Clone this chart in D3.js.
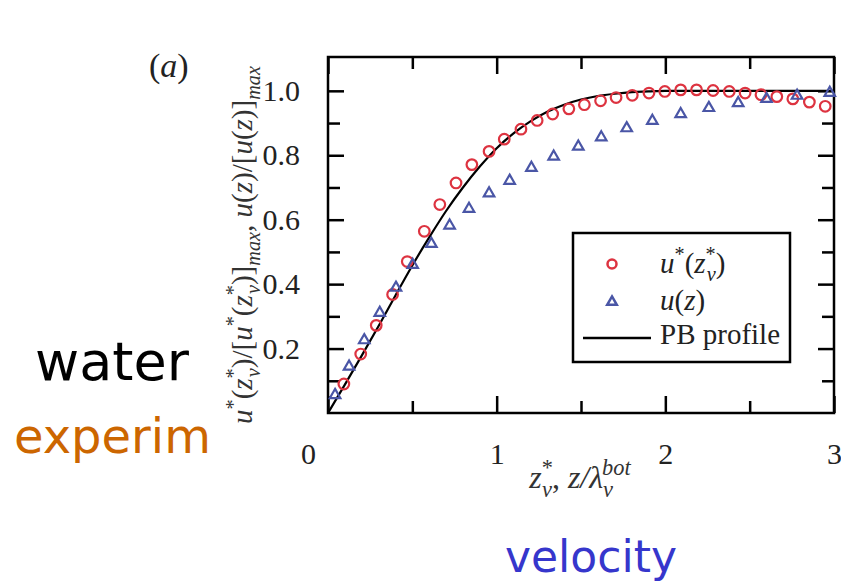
<!DOCTYPE html>
<html>
<head>
<meta charset="utf-8">
<script src="https://cdn.jsdelivr.net/npm/d3@7"></script>
<style>
  body { margin: 0; background: #fff; }
  svg { display: block; }
</style>
</head>
<body>
<svg id="chart" width="841" height="584"></svg>
<script>
// Data
const starX = [0.094, 0.194, 0.286, 0.383, 0.470, 0.571, 0.663, 0.759, 0.853, 0.955, 1.045, 1.144, 1.240, 1.332, 1.428, 1.520, 1.616, 1.708, 1.804, 1.903, 1.997, 2.091, 2.185, 2.283, 2.379, 2.473, 2.567, 2.661, 2.756, 2.854, 2.948];
const starY = [0.090, 0.183, 0.272, 0.368, 0.470, 0.564, 0.647, 0.714, 0.771, 0.812, 0.850, 0.881, 0.908, 0.928, 0.944, 0.957, 0.969, 0.979, 0.986, 0.993, 0.998, 1.003, 1.003, 1.001, 0.998, 0.993, 0.988, 0.982, 0.975, 0.965, 0.952];

const uzX = [0.042, 0.125, 0.215, 0.307, 0.403, 0.502, 0.613, 0.721, 0.836, 0.955, 1.077, 1.206, 1.338, 1.484, 1.620, 1.771, 1.923, 2.091, 2.258, 2.432, 2.600, 2.781, 2.975];
const uzY = [0.059, 0.147, 0.229, 0.314, 0.392, 0.463, 0.528, 0.585, 0.637, 0.685, 0.724, 0.764, 0.799, 0.830, 0.859, 0.887, 0.910, 0.931, 0.950, 0.965, 0.978, 0.988, 0.997];

const pbX = [0, 0.1, 0.2, 0.3, 0.4, 0.5, 0.6, 0.7, 0.8, 0.9, 1.0, 1.1, 1.2, 1.3, 1.4, 1.5, 1.6, 1.7, 1.8, 1.9, 2.0, 2.5, 3.0];
const pbY = [0, 0.088, 0.178, 0.27, 0.365, 0.458, 0.545, 0.627, 0.70, 0.765, 0.822, 0.868, 0.905, 0.935, 0.957, 0.973, 0.984, 0.991, 0.996, 0.998, 1.0, 1.0, 1.0];

const xMajor = [0, 1, 2, 3];
const xMinor = [0.5, 1.5, 2.5];
const yMajor = [0.2, 0.4, 0.6, 0.8, 1.0];
const yMinor = [0.1, 0.3, 0.5, 0.7, 0.9];

const svg = d3.select("#chart");

// Plot area
const plotLeft = 328, plotRight = 834, plotTop = 57, plotBottom = 413;
const x = d3.scaleLinear().domain([0, 3]).range([plotLeft, plotRight]);
const y = d3.scaleLinear().domain([0, 1.105]).range([plotBottom, plotTop]);

const serif = "'Liberation Serif', 'Times New Roman', serif";
const comic = "'Comic Sans MS', 'DejaVu Sans', sans-serif";

// ticks (inside, all four sides)
function addAxis(axis, tx, ty, labels) {
  const g = svg.append("g")
    .attr("transform", `translate(${tx},${ty})`)
    .call(axis);
  g.select(".domain").remove();
  g.selectAll(".tick line").attr("stroke", "#000").attr("stroke-width", 2.5);
  g.selectAll("text").attr("font-family", serif).attr("font-size", 30).attr("fill", "#222");
  if (!labels) g.selectAll("text").remove();
  return g;
}

const xb = addAxis(d3.axisBottom(x).tickValues(xMajor).tickSize(-17).tickPadding(30).tickFormat(d3.format("d")), 0, plotBottom, true);
xb.selectAll("text").attr("dx", d => d === 0 ? -20 : 0);
addAxis(d3.axisBottom(x).tickValues(xMinor).tickSize(-12).tickFormat(""), 0, plotBottom, false);
addAxis(d3.axisTop(x).tickValues(xMajor).tickSize(-17), 0, plotTop, false);
addAxis(d3.axisTop(x).tickValues(xMinor).tickSize(-12), 0, plotTop, false);

addAxis(d3.axisLeft(y).tickValues(yMajor).tickSize(-16).tickPadding(28).tickFormat(d3.format(".1f")), plotLeft, 0, true);
addAxis(d3.axisLeft(y).tickValues(yMinor).tickSize(-12), plotLeft, 0, false);
addAxis(d3.axisRight(y).tickValues(yMajor).tickSize(-16), plotRight, 0, false);
addAxis(d3.axisRight(y).tickValues(yMinor).tickSize(-12), plotRight, 0, false);

// frame
svg.append("rect")
  .attr("x", plotLeft).attr("y", plotTop)
  .attr("width", plotRight - plotLeft).attr("height", plotBottom - plotTop)
  .attr("fill", "none").attr("stroke", "#000").attr("stroke-width", 2.5);

// PB profile
const line = d3.line()
  .x((d, i) => x(pbX[i]))
  .y((d, i) => y(pbY[i]))
  .curve(d3.curveMonotoneX);
svg.append("path")
  .datum(pbX)
  .attr("d", line)
  .attr("fill", "none").attr("stroke", "#000").attr("stroke-width", 2.2);

// u*(z*v) circles
const red = "#dd3340", blue = "#4a56a6";
svg.append("g").selectAll("circle")
  .data(starX)
  .join("circle")
  .attr("cx", d => x(d))
  .attr("cy", (d, i) => y(starY[i]))
  .attr("r", 5.3)
  .attr("fill", "none").attr("stroke", red).attr("stroke-width", 2.2);

// u(z) triangles
const tri = d3.symbol(d3.symbolTriangle).size(48);
svg.append("g").selectAll("path")
  .data(uzX)
  .join("path")
  .attr("d", tri)
  .attr("transform", (d, i) => `translate(${x(d)},${y(uzY[i]) + 1})`)
  .attr("fill", "none").attr("stroke", blue).attr("stroke-width", 2.2);

// rich text helper: parts = [text, {shift, size, it, dx}]
function rich(sel, parts, baseSize) {
  let prev = 0;
  parts.forEach(p => {
    const [txt, o = {}] = p;
    const shift = o.shift || 0;
    sel.append("tspan")
      .attr("dy", shift - prev)
      .attr("dx", o.dx || 0)
      .attr("font-size", o.size ? baseSize * o.size : baseSize)
      .attr("font-style", o.it ? "italic" : "normal")
      .text(txt);
    prev = shift;
  });
}

const SUP = s => ({ shift: -s * 0.42, size: 0.7 });
const SUBIT = (s, dx) => ({ shift: s * 0.28, size: 0.7, it: true, dx: dx });
const IT = { it: true };

// legend
svg.append("rect")
  .attr("x", 573).attr("y", 233).attr("width", 217).attr("height", 129)
  .attr("fill", "#fff").attr("stroke", "#000").attr("stroke-width", 2.5);
svg.append("circle").attr("cx", 612).attr("cy", 264).attr("r", 4.5)
  .attr("fill", "none").attr("stroke", red).attr("stroke-width", 2.5);
svg.append("path").attr("d", d3.symbol(d3.symbolTriangle).size(40))
  .attr("transform", "translate(612,302)")
  .attr("fill", "none").attr("stroke", blue).attr("stroke-width", 2.5);
svg.append("line").attr("x1", 583).attr("x2", 651).attr("y1", 338).attr("y2", 338)
  .attr("stroke", "#000").attr("stroke-width", 2.5);

const ls = 29;
rich(svg.append("text").attr("x", 660).attr("y", 273).attr("font-family", serif).attr("fill", "#222"),
  [["u", IT], ["*", SUP(ls)], ["(", {}], ["z", IT], ["*", SUP(ls)], ["v", SUBIT(ls, -9)], [")", {}]], ls);
rich(svg.append("text").attr("x", 660).attr("y", 310).attr("font-family", serif).attr("fill", "#222"),
  [["u", IT], ["(", {}], ["z", IT], [")", {}]], ls);
svg.append("text").attr("x", 660).attr("y", 344).attr("font-family", serif).attr("font-size", ls)
  .attr("fill", "#222").text("PB profile");

// (a)
rich(svg.append("text").attr("x", 149).attr("y", 77).attr("font-family", serif).attr("fill", "#222"),
  [["(", {}], ["a", IT], [")", {}]], 34);

// x label
const xs = 32;
rich(svg.append("text").attr("x", 580).attr("y", 488).attr("text-anchor", "middle")
  .attr("font-family", serif).attr("fill", "#333"),
  [["z", IT], ["*", SUP(xs)], ["v", SUBIT(xs, -11)], [", ", {}], ["z", IT], ["/λ", IT],
   ["v", SUBIT(xs, 0)], ["bot", { shift: -xs * 0.42, size: 0.7, it: true, dx: -11 }]], xs);

// y label
const ys = 29;
rich(svg.append("text").attr("transform", "translate(252,245) rotate(-90)")
  .attr("text-anchor", "middle").attr("font-family", serif).attr("fill", "#333"),
  [["u", IT], ["*", SUP(ys)], ["(", {}], ["z", IT], ["*", SUP(ys)], ["v", SUBIT(ys, -9)], [")/[", {}],
   ["u", IT], ["*", SUP(ys)], ["(", {}], ["z", IT], ["*", SUP(ys)], ["v", SUBIT(ys, -9)], [")]", {}],
   ["max", SUBIT(ys, 0)], [", ", {}], ["u", IT], ["(", {}], ["z", IT], [")/[", {}], ["u", IT], ["(", {}],
   ["z", IT], [")]", {}], ["max", SUBIT(ys, 0)]], ys);

// side annotations
svg.append("text").attr("x", 35).attr("y", 380).attr("font-family", comic).attr("font-size", 54)
  .attr("fill", "#000").text("water");
svg.append("text").attr("x", 14).attr("y", 453).attr("font-family", comic).attr("font-size", 48)
  .attr("fill", "#cc6600").text("experim");
svg.append("text").attr("x", 505).attr("y", 572).attr("font-family", comic).attr("font-size", 44)
  .attr("fill", "#3636cc").text("velocity");
</script>
</body>
</html>
